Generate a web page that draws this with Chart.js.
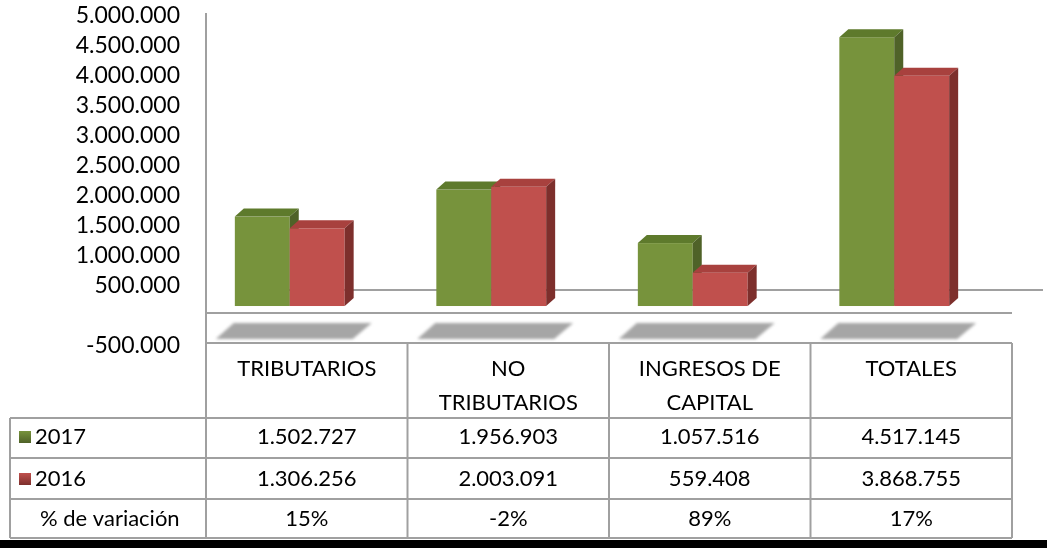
<!DOCTYPE html>
<html>
<head>
<meta charset="utf-8">
<script src="https://cdn.jsdelivr.net/npm/chart.js@4.4.1/dist/chart.umd.min.js"></script>
<style>
  body { margin: 0; background: #fff; }
  #caja { width: 1047px; height: 548px; }
</style>
</head>
<body>
<div id="caja"><canvas id="grafico" width="1047" height="548"></canvas></div>
<script>
// datos
const categorias = [['TRIBUTARIOS'], ['NO', 'TRIBUTARIOS'], ['INGRESOS DE', 'CAPITAL'], ['TOTALES']];
const anios = ['2017', '2016'];
const valores2017 = [1502727, 1956903, 1057516, 4517145];
const valores2016 = [1306256, 2003091, 559408, 3868755];
const variacion = ['15%', '-2%', '89%', '17%'];
const ejeMin = -500000;
const ejeMax = 5000000;
const ejePaso = 500000;

// colores: cara frontal, superior y lateral
const verde = { frente: '#77933C', arriba: '#5E7A2C', lado: '#4F6228' };
const rojo = { frente: '#C0504D', arriba: '#A8413E', lado: '#7D2F2C' };

const fuente = 'Lato, "Open Sans", sans-serif';
const gris = '#A0A0A0';

function miles(v) {
    return v.toLocaleString('de-DE');
}

// dibuja una barra con sus caras 3D
function barra3d(ctx, x0, x1, top, base, col) {
    const dx = 9, dy = 8;
    // frente
    ctx.fillStyle = col.frente;
    ctx.fillRect(x0, top, x1 - x0, base - top);
    // arriba
    ctx.fillStyle = col.arriba;
    ctx.beginPath();
    ctx.moveTo(x0, top);
    ctx.lineTo(x0 + dx, top - dy);
    ctx.lineTo(x1 + dx, top - dy);
    ctx.lineTo(x1, top);
    ctx.closePath();
    ctx.fill();
    // lado
    ctx.fillStyle = col.lado;
    ctx.beginPath();
    ctx.moveTo(x1, top);
    ctx.lineTo(x1 + dx, top - dy);
    ctx.lineTo(x1 + dx, base - dy);
    ctx.lineTo(x1, base);
    ctx.closePath();
    ctx.fill();
}

function linea(ctx, x0, y0, x1, y1) {
    ctx.beginPath();
    ctx.moveTo(x0, y0);
    ctx.lineTo(x1, y1);
    ctx.stroke();
}

function marcador(ctx, x, y, col) {
    const g = ctx.createLinearGradient(x, y, x, y + 12);
    g.addColorStop(0, col.frente);
    g.addColorStop(1, col.lado);
    ctx.fillStyle = g;
    ctx.fillRect(x, y, 12, 12);
}

const escena = {
    id: 'escena',
    beforeDatasetsDraw(chart) {
        const ctx = chart.ctx;
        const x = chart.scales.x;
        const yb = chart.scales.yb;
        const y = chart.scales.y;
        const s = x.getPixelForValue(1) - x.getPixelForValue(0);
        const cols = [0, 1, 2, 3, 4].map(i => x.getPixelForValue(0) - s / 2 + 17 + i * s);
        const cero = yb.getPixelForValue(0);
        const tablaTop = y.getPixelForValue(ejeMin) - 3;

        ctx.save();
        ctx.strokeStyle = gris;
        ctx.lineWidth = 2;
        // eje vertical
        linea(ctx, cols[0], 13, cols[0], 538);
        // pared del fondo y piso
        linea(ctx, cols[0] + 40, cero - 16, 1043, cero - 16);
        linea(ctx, cols[0], cero + 7, cols[4], cero + 7);

        // sombras bajo cada par de barras
        const m0 = chart.getDatasetMeta(0);
        const m1 = chart.getDatasetMeta(1);
        ctx.fillStyle = '#A6A6A6';
        ctx.filter = 'blur(1.5px)';
        for (let i = 0; i < categorias.length; i++) {
            const izq = m0.data[i].x - m0.data[i].width / 2;
            const der = m1.data[i].x + m1.data[i].width / 2 + 9;
            ctx.beginPath();
            ctx.moveTo(izq - 1, cero + 17);
            ctx.lineTo(der + 18, cero + 17);
            ctx.lineTo(der - 1, cero + 33);
            ctx.lineTo(izq - 19, cero + 33);
            ctx.closePath();
            ctx.fill();
        }
        ctx.filter = 'none';

        // barras 3D a partir de los elementos del grafico
        for (let i = 0; i < categorias.length; i++) {
            [m0, m1].forEach((m, k) => {
                const b = m.data[i];
                barra3d(ctx, b.x - b.width / 2, b.x + b.width / 2, b.y, b.base, k === 0 ? verde : rojo);
            });
        }

        // tabla de datos
        const filas = [tablaTop, 418, 458, 499, 538];
        ctx.strokeStyle = gris;
        ctx.lineWidth = 2;
        linea(ctx, cols[0], filas[0], cols[4], filas[0]);
        for (let r = 1; r < filas.length; r++) {
            linea(ctx, 10, filas[r], cols[4], filas[r]);
        }
        linea(ctx, 10, filas[1], 10, filas[4]);
        for (let c = 1; c < cols.length; c++) {
            linea(ctx, cols[c], filas[0], cols[c], filas[4]);
        }

        ctx.fillStyle = '#000';
        ctx.font = '22px ' + fuente;
        ctx.textAlign = 'center';
        ctx.textBaseline = 'middle';
        for (let i = 0; i < categorias.length; i++) {
            const cx = (cols[i] + cols[i + 1]) / 2;
            categorias[i].forEach((t, j) => ctx.fillText(t, cx, 369 + j * 34));
            ctx.fillText(miles(chart.data.datasets[0].data[i]), cx, 437);
            ctx.fillText(miles(chart.data.datasets[1].data[i]), cx, 479);
            ctx.fillText(variacion[i], cx, 519);
        }
        ctx.textAlign = 'left';
        marcador(ctx, 19, 431, verde);
        ctx.fillStyle = '#000';
        ctx.fillText(anios[0], 35, 437);
        marcador(ctx, 19, 473, rojo);
        ctx.fillStyle = '#000';
        ctx.fillText(anios[1], 35, 479);
        ctx.fillText('% de variación', 40, 519);

        // borde inferior
        ctx.fillStyle = '#000';
        ctx.fillRect(0, 540, 1047, 8);
        ctx.restore();
    }
};

new Chart(document.getElementById('grafico'), {
    type: 'bar',
    data: {
        labels: categorias,
        datasets: [
            { label: anios[0], data: valores2017, yAxisID: 'yb', backgroundColor: 'rgba(0,0,0,0)' },
            { label: anios[1], data: valores2016, yAxisID: 'yb', backgroundColor: 'rgba(0,0,0,0)' }
        ]
    },
    options: {
        responsive: false,
        devicePixelRatio: 1,
        animation: false,
        categoryPercentage: 0.545,
        barPercentage: 1,
        layout: { padding: { top: 16, bottom: 202, right: 52, left: 0 } },
        plugins: { legend: { display: false }, tooltip: { enabled: false } },
        scales: {
            x: { type: 'category', display: false, offset: true },
            y: {
                position: 'left',
                min: ejeMin,
                max: ejeMax,
                grid: { display: false, drawTicks: false },
                border: { display: false },
                ticks: {
                    stepSize: ejePaso,
                    autoSkip: false,
                    padding: 9,
                    color: '#000',
                    font: { family: fuente, size: 23 },
                    callback: v => (v === 0 ? '' : miles(v))
                },
                afterFit: axis => {
                    axis.width = 189;
                    axis.paddingTop = 0;
                    axis.paddingBottom = 0;
                }
            },
            // escala de la cara frontal de las barras (perspectiva)
            yb: { display: false, min: -672000, max: 4874000 }
        }
    },
    plugins: [escena]
});
</script>
</body>
</html>
